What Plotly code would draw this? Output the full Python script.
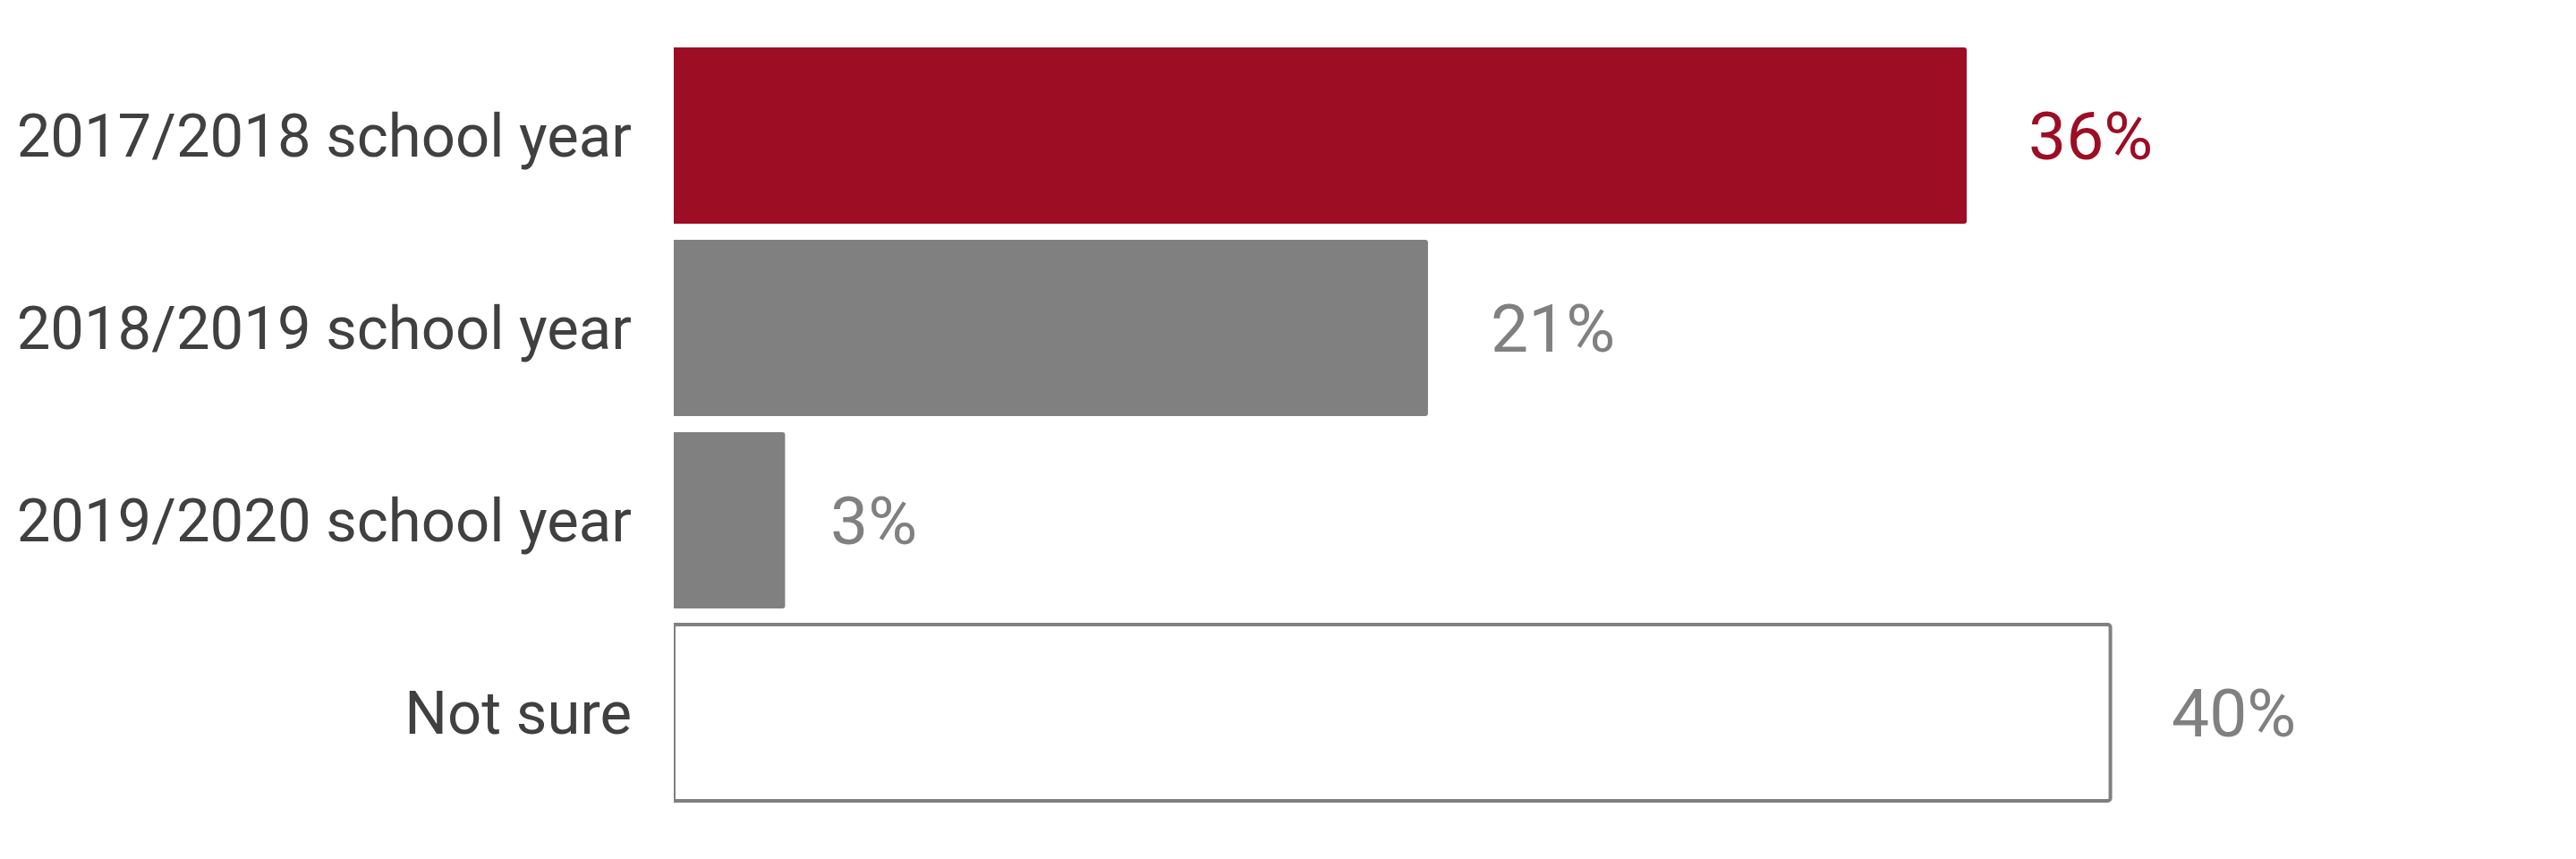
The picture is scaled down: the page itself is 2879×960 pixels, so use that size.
import plotly.graph_objects as go

categories = ["2017/2018 school year", "2018/2019 school year", "2019/2020 school year", "Not sure"]
values = [36, 21, 3.1, 40]
labels = ["36%", "21%", "3%", "40%"]

fill_colors = ["#9D0D24", "#808080", "#808080", "#FFFFFF"]
line_colors = ["#9D0D24", "#808080", "#808080", "#808080"]
line_widths = [0, 0, 0, 4]
label_colors = ["#9D0D24", "#808080", "#808080", "#808080"]
label_gaps = [67, 68, 49, 66]

fig = go.Figure()
fig.add_trace(go.Bar(
    x=values,
    y=categories,
    orientation="h",
    marker=dict(color=fill_colors, line=dict(color=line_colors, width=line_widths), cornerradius=3),
    width=0.916,
    hoverinfo="skip",
))

for c, v, t, col, g in zip(categories, values, labels, label_colors, label_gaps):
    fig.add_annotation(
        x=v, y=c, text=t, showarrow=False, xanchor="left", yanchor="middle",
        xshift=g, font=dict(family="Roboto", size=75, color=col),
    )

fig.update_layout(
    width=2871, height=952,
    margin=dict(l=745, r=119, t=36, b=56),
    paper_bgcolor="white", plot_bgcolor="white",
    showlegend=False,
    font=dict(family="Roboto", color="#404040"),
    xaxis=dict(range=[0, 50], visible=False, showgrid=False, zeroline=False),
    yaxis=dict(
        categoryorder="array", categoryarray=categories, autorange="reversed",
        showgrid=False, zeroline=False, showline=False, ticks="",
        tickfont=dict(family="Roboto", size=67, color="#404040"),
        ticklabelstandoff=46,
    ),
)

fig.write_html("out.html")
